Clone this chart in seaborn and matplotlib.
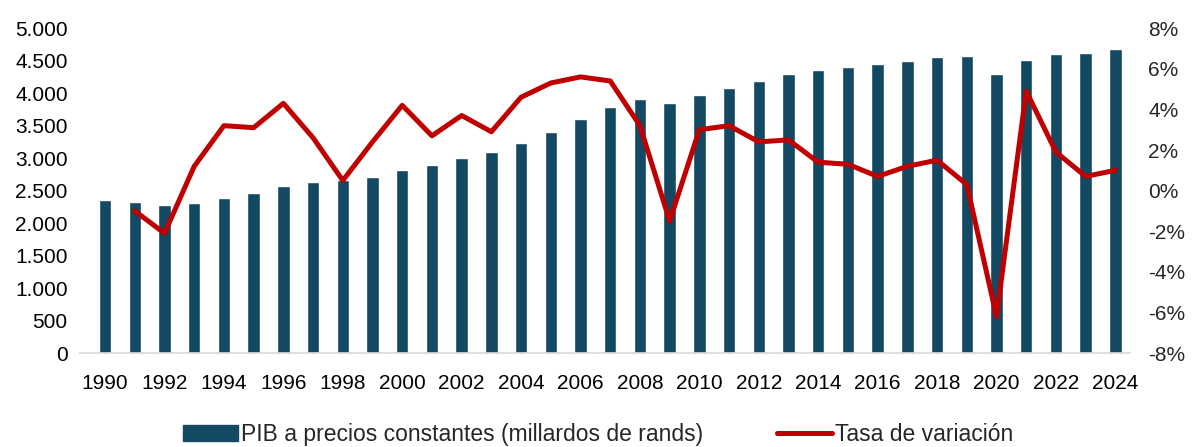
import numpy as np
import pandas as pd
import matplotlib.pyplot as plt
import seaborn as sns
from matplotlib.patches import Patch
from matplotlib.lines import Line2D

years = list(range(1990, 2025))
pib = [2350, 2328, 2282, 2313, 2385, 2462, 2564, 2631, 2665, 2703,
       2821, 2897, 3005, 3092, 3236, 3400, 3595, 3785, 3908, 3846,
       3964, 4087, 4190, 4292, 4359, 4410, 4441, 4492, 4559, 4574,
       4292, 4503, 4595, 4621, 4672]
# tasa de variación (%), desde 1991
tasa = [-1.0, -2.1, 1.2, 3.2, 3.1, 4.3, 2.6, 0.5, 2.4,
        4.2, 2.7, 3.7, 2.9, 4.6, 5.3, 5.6, 5.4, 3.2, -1.5,
        3.0, 3.2, 2.4, 2.5, 1.4, 1.3, 0.7, 1.2, 1.5, 0.3,
        -6.2, 4.9, 1.9, 0.7, 1.0]

bar_color = '#134962'
red = '#C00000'

sns.set_style('white')
plt.rcParams['font.family'] = ['Liberation Sans', 'DejaVu Sans']

df = pd.DataFrame({'year': [str(y) for y in years], 'pib': pib})

fig = plt.figure(figsize=(11.96, 4.47), dpi=100)
ax = fig.add_axes([0.067, 0.21, 0.878, 0.727])
sns.barplot(data=df, x='year', y='pib', color=bar_color, width=0.42,
            saturation=1, ax=ax)
ax.set_ylim(0, 5000)
ax.set_yticks(range(0, 5001, 500))
ax.set_yticklabels([f'{v:,}'.replace(',', '.') for v in range(0, 5001, 500)])
ax.set_xlim(-0.84, 34.5)
ax.set_xticks(range(0, 35, 2))
ax.set_xticklabels([str(y) for y in years[::2]])
ax.set_xlabel('')
ax.set_ylabel('')
for s in ['top', 'right', 'left']:
    ax.spines[s].set_visible(False)
ax.spines['bottom'].set_color('#d9d9d9')
ax.spines['bottom'].set_linewidth(1.2)
ax.tick_params(axis='both', length=0, labelsize=15, colors='#000000')
ax.tick_params(axis='x', pad=15)
ax.tick_params(axis='y', pad=9)

ax2 = ax.twinx()
sns.lineplot(x=np.arange(1, 35), y=tasa, color=red, linewidth=3.6, ax=ax2)
ax2.set_ylim(-8, 8)
ax2.set_yticks(range(-8, 9, 2))
ax2.set_yticklabels([f'{v}%' for v in range(-8, 9, 2)])
ax2.set_xlim(-0.84, 34.5)
for s in ['top', 'right', 'left', 'bottom']:
    ax2.spines[s].set_visible(False)
ax2.tick_params(axis='y', length=0, labelsize=15, pad=13)

handles = [Patch(facecolor=bar_color, edgecolor=bar_color),
           Line2D([0], [0], color=red, linewidth=3.6)]
labels = ['PIB a precios constantes (millardos de rands)', 'Tasa de variación']
fig.legend(handles, labels, loc='lower center', bbox_to_anchor=(0.5, -0.045),
           ncol=2, frameon=False, columnspacing=3.2,
           handlelength=2.4, handletextpad=0.15,
           prop={'family': ['Liberation Sans', 'DejaVu Sans'], 'size': 16.5})

fig.savefig('out.png', dpi=100)
